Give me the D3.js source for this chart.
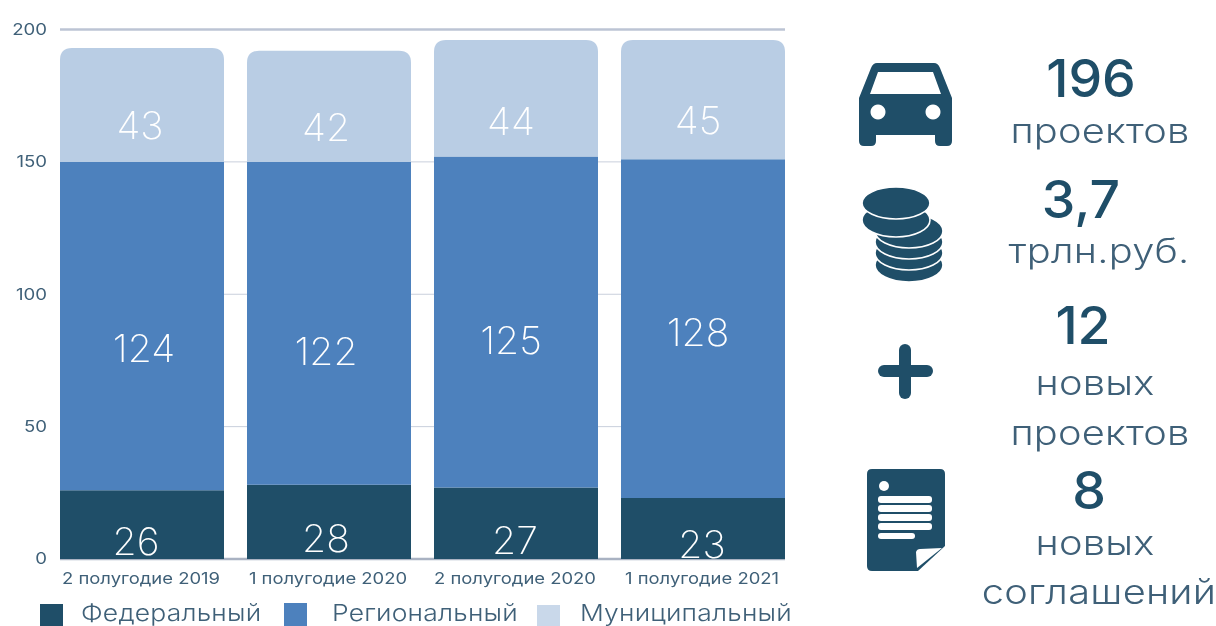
<!DOCTYPE html>
<html lang="en">
<head>
<meta charset="utf-8">
<title>Проекты</title>
<script src="https://d3js.org/d3.v7.min.js"></script>
<style>
html, body { margin: 0; padding: 0; background: #fff; overflow: hidden; }
svg { filter: blur(0.4px); }
text { font-family: Inter, "Open Sans", sans-serif; }
</style>
</head>
<body>
<script>
const categories = ["2 полугодие 2019", "1 полугодие 2020", "2 полугодие 2020", "1 полугодие 2021"];
const seriesNames = ["Федеральный", "Региональный", "Муниципальный"];
const federal = [26, 28, 27, 23];
const regional = [124, 122, 125, 128];
const municipal = [43, 42, 44, 45];
const yTicks = [0, 50, 100, 150, 200];

const colors = ["#1f4e68", "#4d81bd", "#b9cde4"];
const legendColors = ["#1f4e68", "#4d81bd", "#c9d8ea"];
const ink = "#1f4e68";
const soft = "#3f6078";

// the labels sit off-centre in the original, so nudge them by hand (px)
const nudgeX = [[-6, 2, -2], [-3, -3, -3], [-1, -5, -5], [-1, -5, -5]];
const nudgeY = [[17, 22, 20], [16, 28, 21], [17, 18, 23], [16, 4, 21]];

const width = 1216, height = 626;

const svg = d3.select("body").append("svg")
    .attr("width", width)
    .attr("height", height)
    .style("display", "block");

const x = d3.scaleBand()
    .domain(categories)
    .range([60, 785])
    .paddingInner(0.123)
    .paddingOuter(0);

const y = d3.scaleLinear()
    .domain([0, 200])
    .range([559, 29.5]);

const rows = categories.map((c, i) => ({ cat: c, federal: federal[i], regional: regional[i], municipal: municipal[i] }));
const stacked = d3.stack().keys(["federal", "regional", "municipal"])(rows);

// no Montserrat here, so stretch the text sideways to get its width
function place(sel, fx, fy, sx) {
    return sel.attr("transform", (d, i) => `translate(${fx(d, i)},${fy(d, i)}) scale(${sx},1)`);
}

// grid
svg.append("g").selectAll("line")
    .data(yTicks)
    .join("line")
    .attr("x1", 60)
    .attr("x2", 785)
    .attr("y1", d => y(d))
    .attr("y2", d => y(d))
    .attr("stroke", d => d === 200 ? "#bcc4d4" : d === 0 ? "#a9b2c2" : "#c9cfdc")
    .attr("stroke-width", d => d === 200 || d === 0 ? 2.5 : 1);

// y axis labels
svg.append("g").selectAll("text")
    .data(yTicks)
    .join("text")
    .call(place, () => 47, d => y(d), 1.2)
    .attr("dy", "0.35em")
    .attr("text-anchor", "end")
    .attr("font-size", 15.5)
    .attr("fill", soft)
    .text(d => d);

// rounded top corners only, for the top segment
function topRounded(x0, y0, w, y1, r) {
    return `M${x0},${y1}V${y0 + r}Q${x0},${y0} ${x0 + r},${y0}H${x0 + w - r}Q${x0 + w},${y0} ${x0 + w},${y0 + r}V${y1}Z`;
}

const layers = svg.selectAll(".layer")
    .data(stacked)
    .join("g")
    .attr("class", "layer")
    .attr("fill", (d, i) => colors[i]);

layers.selectAll("path")
    .data(d => d)
    .join("path")
    .attr("d", function(d) {
        const x0 = x(d.data.cat), w = x.bandwidth();
        const layer = d3.select(this.parentNode).datum().index;
        return topRounded(x0, y(d[1]), w, y(d[0]), layer === 2 ? 12 : 0);
    });

// value labels
stacked.forEach((layer, s) => {
    svg.append("g").selectAll("text")
        .data(layer)
        .join("text")
        .call(place,
            (d, i) => x(d.data.cat) + x.bandwidth() / 2 + nudgeX[i][s],
            (d, i) => y((d[0] + d[1]) / 2) + nudgeY[i][s],
            1.03)
        .attr("dy", "0.36em")
        .attr("text-anchor", "middle")
        .attr("font-size", 38)
        .attr("font-weight", 250)
        .attr("fill", "#fff")
        .text(d => d[1] - d[0]);
});

// category labels
svg.append("g").selectAll("text")
    .data(categories)
    .join("text")
    .call(place, d => x(d) + x.bandwidth() / 2 - 1, () => 579, 1.19)
    .attr("dy", "0.35em")
    .attr("text-anchor", "middle")
    .attr("font-size", 15.5)
    .attr("fill", soft)
    .text(d => d);

// legend
const legendX = [40, 284, 537];
const legendTextX = [81, 332, 580];
const legendTop = [604, 603, 605];

svg.append("g").selectAll("rect")
    .data(seriesNames)
    .join("rect")
    .attr("x", (d, i) => legendX[i])
    .attr("y", (d, i) => legendTop[i])
    .attr("width", 23)
    .attr("height", 24)
    .attr("fill", (d, i) => legendColors[i]);

svg.append("g").selectAll("text")
    .data(seriesNames)
    .join("text")
    .call(place, (d, i) => legendTextX[i], () => 621, 1.15)
    .attr("font-size", 23)
    .attr("font-weight", 300)
    .attr("letter-spacing", 0.2)
    .attr("fill", soft)
    .text(d => d);

// right hand figures
const bigNumbers = ["196", "3,7", "12", "8"];
const bigX = [1091, 1081, 1083, 1089];
const bigY = [78, 199, 325, 490];
const captions = ["проектов", "трлн.руб.", "новых", "проектов", "новых", "соглашений"];
const captionX = [1100, 1099, 1095, 1100, 1095, 1099];
const captionY = [133, 253, 385, 435, 545, 594];

svg.append("g").selectAll("text")
    .data(bigNumbers)
    .join("text")
    .call(place, (d, i) => bigX[i], (d, i) => bigY[i], 1.03)
    .attr("dy", "0.36em")
    .attr("text-anchor", "middle")
    .attr("font-size", 52)
    .attr("font-weight", 500)
    .attr("fill", ink)
    .text(d => d);

svg.append("g").selectAll("text")
    .data(captions)
    .join("text")
    .call(place, (d, i) => captionX[i], (d, i) => captionY[i], 1.17)
    .attr("dy", "0.3em")
    .attr("text-anchor", "middle")
    .attr("font-size", 34)
    .attr("font-weight", 300)
    .attr("letter-spacing", 0.2)
    .attr("fill", soft)
    .text(d => d);

// icons
const icons = svg.append("g").attr("fill", ink);

// car
icons.append("path")
    .attr("fill-rule", "evenodd")
    .attr("d", "M877,63H934Q938,63 940,68L952,98V141Q952,146 947,146H940Q935,146 935,141V135H876V141Q876,146 871,146H864Q859,146 859,141V98L871,68Q873,63 877,63Z" +
        "M878,72L870,94H941L933,72Z" +
        "M878,104.5a7.5,7.5 0 1,0 0.01,0Z M933,104.5a7.5,7.5 0 1,0 0.01,0Z");

// coins
const coins = icons.append("g").attr("stroke", "#fff").attr("stroke-width", 1.6);
[[909, 265], [909, 253], [909, 242], [909, 231]].forEach(c => {
    coins.append("ellipse").attr("cx", c[0]).attr("cy", c[1]).attr("rx", 34).attr("ry", 17);
});
coins.append("ellipse").attr("cx", 896).attr("cy", 220).attr("rx", 34).attr("ry", 17);
coins.append("ellipse").attr("cx", 896).attr("cy", 203).attr("rx", 34).attr("ry", 16);

// plus
icons.append("rect").attr("x", 899).attr("y", 344).attr("width", 12).attr("height", 55).attr("rx", 6);
icons.append("rect").attr("x", 878).attr("y", 365).attr("width", 55).attr("height", 12).attr("rx", 6);

// document
icons.append("path")
    .attr("d", "M872,469H940Q945,469 945,474V546L918,571H872Q867,571 867,566V474Q867,469 872,469Z");
icons.append("path")
    .attr("fill", "#fff")
    .attr("d", "M916,552Q917,549 920,549L942,548L917,568Z");
const docLines = icons.append("g").attr("fill", "#fff");
docLines.append("circle").attr("cx", 884).attr("cy", 486).attr("r", 5);
[496, 505, 514, 523].forEach(t => {
    docLines.append("rect").attr("x", 878).attr("y", t).attr("width", 54).attr("height", 7).attr("rx", 3);
});
docLines.append("rect").attr("x", 878).attr("y", 533).attr("width", 37).attr("height", 6).attr("rx", 3);
</script>
</body>
</html>
